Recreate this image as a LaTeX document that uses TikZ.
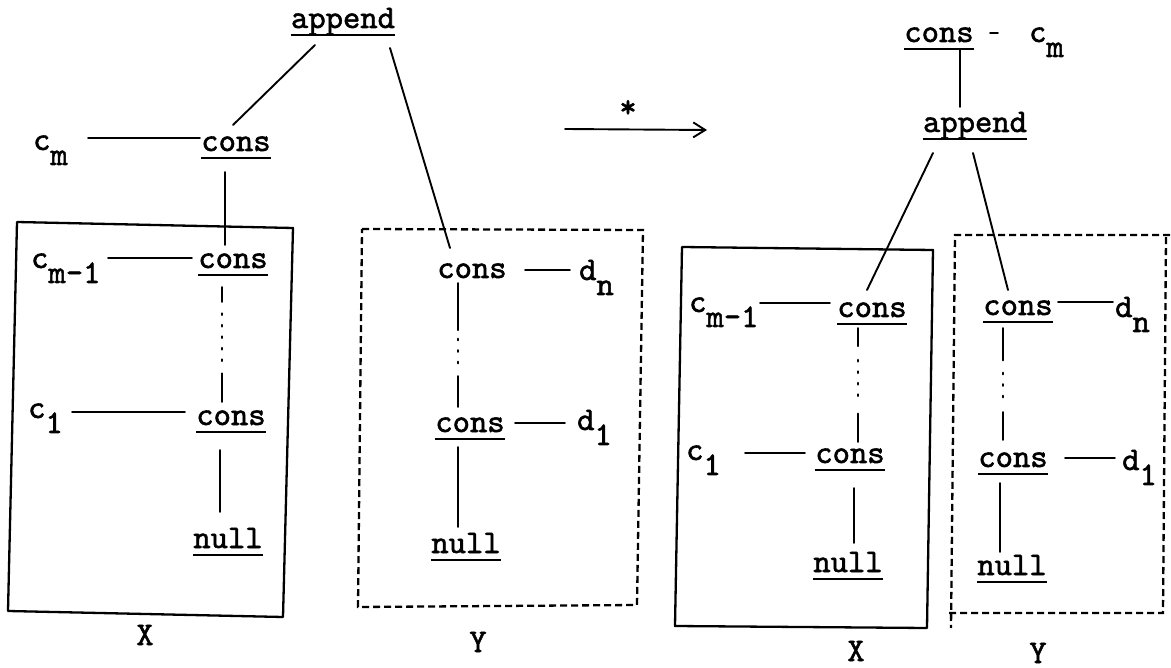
\documentclass[tikz,border=0pt]{standalone}
\usepackage{fontspec}
\usetikzlibrary{calc,arrows.meta}
\newfontfamily\tyfont{lmmono10-regular.otf}[FakeBold=1.6]
\newcommand\tfont{\fontsize{33}{36}\selectfont\tyfont}
\newcommand\sub[1]{\smash{\raisebox{-15pt}{#1}}}
\newcommand\dlink[5]{%
  \draw[conn] (#1) -- ($(#1)!#3!(#2)$);
  \draw[conn,line width=2.4pt,dash pattern=on 1.5pt off 10pt] ($(#1)!#4!(#2)$) -- ($(#1)!#5!(#2)$);
  \draw[conn] ($(#1)!0.75!(#2)$) -- (#2);}
\tikzset{
  w/.style={inner sep=0pt, anchor=base, font=\tfont},
  lab/.style={inner sep=0pt, anchor=base west, font=\tfont},
  conn/.style={line width=1.9pt, line cap=round},
  ulw/.style={line width=1.7pt},
  solidbox/.style={line width=2.3pt, line join=round},
  dashbox/.style={line width=2.3pt, dash pattern=on 7pt off 4pt},
}
\begin{document}
\begin{tikzpicture}[x=1pt,y=-1pt]
\fill[white] (0,0) rectangle (1171,668);
\useasboundingbox (0,0) rectangle (1171,668);

% ---------- left: before ----------
\node[w] (app1) at (343,28) {append};
\node[w] (k1) at (236,151) {cons};
\node[lab] (cm1) at (33,150) {c\sub{m}};
\node[w] (k2) at (233,268) {cons};
\node[lab] (cmm1) at (31,268) {c\sub{m-1}};
\node[w] (k3) at (231,425) {cons};
\node[lab] (c1) at (28,418) {c\sub{1}};
\node[w] (n1) at (228,548) {null};
\node[w] (xl1) at (145,645) {X};
\node[w] (yk1) at (472,278) {cons};
\node[lab] (dn1) at (579,280) {d\sub{n}};
\node[w] (yk2) at (470,432) {cons};
\node[lab] (d11) at (577,430) {d\sub{1}};
\node[w] (yn1) at (466,553) {null};
\node[w] (yl1) at (478,652) {Y};

% boxes
\draw[solidbox] (17,222) -- (293,228) -- (283,617) -- (8,611) -- cycle;
\draw[dashbox] (362,229) -- (643,230) -- (637,605) -- (358,607) -- cycle;

% connectors
\draw[conn] ([shift={(-28,17)}]app1.base) -- ([shift={(-3,-26)}]k1.base);
\draw[conn] ([shift={(47,20)}]app1.base) -- ([shift={(-22,-30)}]yk1.base);
\draw[conn] ([shift={(55,-12)}]cm1.base west) -- ([shift={(-36,-13)}]k1.base);
\draw[conn] ([shift={(-11,21)}]k1.base) -- ([shift={(-8,-23)}]k2.base);
\draw[conn] ([shift={(77,-10)}]cmm1.base west) -- ([shift={(-41,-10)}]k2.base);
\coordinate (p1) at ([shift={(-11,19)}]k2.base);
\coordinate (p2) at ([shift={(-9,-23)}]k3.base);
\dlink{p1}{p2}{0.13}{0.23}{0.68}
\draw[conn] ([shift={(44,-6)}]c1.base west) -- ([shift={(-46,-13)}]k3.base);
\draw[conn] ([shift={(-11,25)}]k3.base) -- ([shift={(-8,-36)}]n1.base);
\draw[conn] ([shift={(53,-8)}]yk1.base) -- ([shift={(-9,-10)}]dn1.base west);
\coordinate (q1) at ([shift={(-14,5)}]yk1.base);
\coordinate (q2) at ([shift={(-12,-25)}]yk2.base);
\dlink{q1}{q2}{0.38}{0.45}{0.70}
\draw[conn] ([shift={(45,-9)}]yk2.base) -- ([shift={(-12,-7)}]d11.base west);
\draw[conn] ([shift={(-12,15)}]yk2.base) -- ([shift={(-8,-26)}]yn1.base);

% ---------- arrow ----------
\coordinate (as) at (565,129);
\coordinate (ae) at (707,130);
\draw[conn,-{Straight Barb[length=12pt,width=15pt,line width=1.9pt]}] (as) -- (ae);
\node[w,anchor=north] (st) at (628,100) {*};

% ---------- right: after ----------
\node[w] (rk0) at (939,42) {cons};
\node[lab] (rcm) at (1029,42) {c\sub{m}};
\node[w] (rapp) at (975,132) {append};
\node[w] (rxk) at (872,317) {cons};
\node[lab] (rxcm) at (689,312) {c\sub{m-1}};
\node[w] (rxk2) at (850,463) {cons};
\node[lab] (rxc1) at (686,460) {c\sub{1}};
\node[w] (rxn) at (848,572) {null};
\node[w] (xl2) at (856,661) {X};
\node[w] (ryk) at (1018,315) {cons};
\node[lab] (rdn) at (1115,317) {d\sub{n}};
\node[w] (ryk2) at (1013,467) {cons};
\node[lab] (rd1) at (1122,470) {d\sub{1}};
\node[w] (ryn) at (1012,575) {null};
\node[w] (yl2) at (1038,663) {Y};

\draw[solidbox] (682,247) -- (933,250) -- (927,628) -- (675,626) -- cycle;
\draw[dashbox] (1170,235) -- (955,235) -- (951,628);
\draw[dashbox] (949,613) -- (1163,613) -- (1166,236);

\draw[conn] ([shift={(51,-9)}]rk0.base) -- ([shift={(-31,-9)}]rcm.base west);
\draw[conn] ([shift={(21,8)}]rk0.base) -- ([shift={(-15,-25)}]rapp.base);
\draw[conn] ([shift={(-42,21)}]rapp.base) -- ([shift={(-5,-27)}]rxk.base);
\draw[conn] ([shift={(-2,21)}]rapp.base) -- ([shift={(-10,-25)}]ryk.base);
\draw[conn] ([shift={(71,-9)}]rxcm.base west) -- ([shift={(-42,-14)}]rxk.base);
\coordinate (r1) at ([shift={(-14,11)}]rxk.base);
\coordinate (r2) at ([shift={(8,-21)}]rxk2.base);
\dlink{r1}{r2}{0.16}{0.28}{0.68}
\draw[conn] ([shift={(59,-7)}]rxc1.base west) -- ([shift={(-45,-10)}]rxk2.base);
\draw[conn] ([shift={(4,25)}]rxk2.base) -- ([shift={(6,-29)}]rxn.base);
\draw[conn] ([shift={(40,-13)}]ryk.base) -- ([shift={(-2,-15)}]rdn.base west);
\coordinate (s1) at ([shift={(-15,13)}]ryk.base);
\coordinate (s2) at ([shift={(-10,-27)}]ryk2.base);
\dlink{s1}{s2}{0.29}{0.40}{0.68}
\draw[conn] ([shift={(52,-9)}]ryk2.base) -- ([shift={(-7,-12)}]rd1.base west);
\draw[conn] ([shift={(-13,16)}]ryk2.base) -- ([shift={(-12,-23)}]ryn.base);

% underlines
\foreach \n in {app1,k1,k2,k3,n1,yk2,yn1,rk0,rapp,rxk,rxk2,rxn,ryk,ryk2,ryn}
  \draw[ulw] ([shift={(0,7)}]\n.base west) -- ([shift={(0,7)}]\n.base east);
\end{tikzpicture}
\end{document}
